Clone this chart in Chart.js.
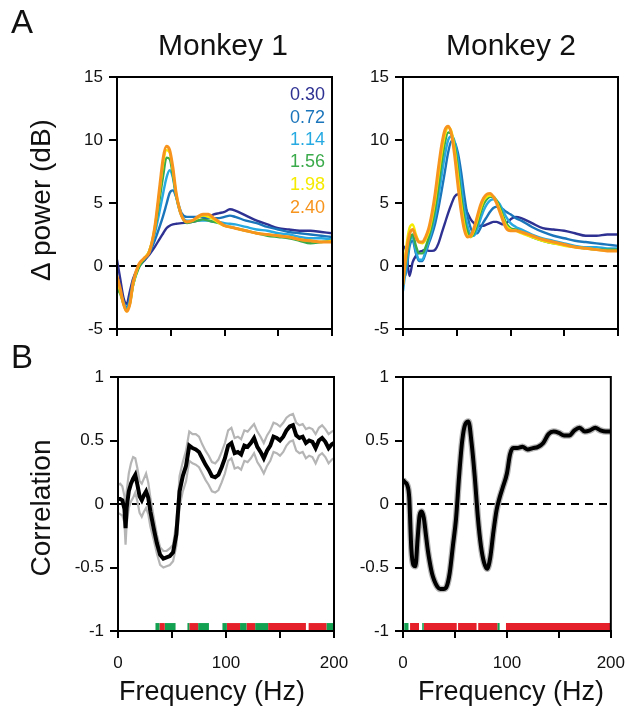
<!DOCTYPE html>
<html>
<head>
<meta charset="utf-8">
<script src="https://cdn.jsdelivr.net/npm/chart.js@4.4.1/dist/chart.umd.min.js"></script>
<style>
  body { margin: 0; background: #fff; }
  #wrap { position: relative; width: 640px; height: 712px; overflow: hidden; font-family: "Liberation Sans", Arial, Helvetica, sans-serif; color: #111; }
  canvas { position: absolute; left: 0; top: 0; }
  .lbl { position: absolute; transform: translate(-50%, -50%); white-space: nowrap; }
  .rot { position: absolute; transform: translate(-50%, -50%) rotate(-90deg); white-space: nowrap; }
  .leg { position: absolute; right: 315px; font-size: 18px; line-height: 18px; transform: translateY(-50%); }
</style>
</head>
<body>
<div id="wrap">
  <canvas id="a1" width="640" height="712"></canvas>
  <canvas id="a2" width="640" height="712"></canvas>
  <canvas id="b1" width="640" height="712"></canvas>
  <canvas id="b2" width="640" height="712"></canvas>

  <div class="lbl" style="left:22px; top:22px; font-size:33px;">A</div>
  <div class="lbl" style="left:22px; top:357px; font-size:33px;">B</div>
  <div class="lbl" style="left:223px; top:45px; font-size:30px;">Monkey 1</div>
  <div class="lbl" style="left:511px; top:45px; font-size:30px;">Monkey 2</div>
  <div class="rot" style="left:41px; top:200px; font-size:28px;">Δ power (dB)</div>
  <div class="rot" style="left:41px; top:508px; font-size:28px;">Correlation</div>
  <div class="lbl" style="left:212px; top:691px; font-size:27px;">Frequency (Hz)</div>
  <div class="lbl" style="left:511px; top:691px; font-size:27px;">Frequency (Hz)</div>
  <div id="legend"></div>
</div>

<script>
// ---- data ----
const levels = ['0.30', '0.72', '1.14', '1.56', '1.98', '2.40'];
const levelColors = ['#2E3192', '#1B75BB', '#27AAE1', '#3AAA4A', '#F5EB00', '#F7941D'];

// panel A, monkey 1
const freqA1 = [0, 3, 6, 9, 12, 15, 20, 25, 30, 35, 40, 43, 46, 49, 52, 55, 60, 65, 70, 75, 80, 85, 90, 95, 100, 105, 110, 120, 130, 140, 150, 160, 170, 180, 190, 200];
const m1_030 = [0.5, -1.0, -2.5, -3.0, -2.0, -1.0, -0.1, 0.4, 0.9, 1.5, 2.2, 2.6, 3.0, 3.2, 3.3, 3.35, 3.4, 3.45, 3.5, 3.6, 3.7, 3.9, 4.1, 4.2, 4.3, 4.5, 4.4, 4.0, 3.6, 3.3, 3.0, 2.9, 2.8, 2.8, 2.7, 2.6];
const m1_072 = [-1.0, -2.0, -2.8, -3.3, -2.5, -1.2, 0.0, 0.5, 1.0, 2.0, 3.2, 4.0, 4.9, 5.8, 6.0, 5.5, 4.2, 3.9, 3.9, 3.9, 3.9, 3.8, 3.8, 3.8, 3.9, 4.0, 3.9, 3.6, 3.4, 3.1, 2.9, 2.7, 2.6, 2.5, 2.4, 2.3];
const m1_114 = [-1.5, -2.0, -2.9, -3.4, -2.8, -1.5, -0.1, 0.5, 1.1, 2.5, 4.5, 5.8, 7.0, 7.6, 7.0, 5.5, 4.0, 3.6, 3.6, 3.6, 3.6, 3.6, 3.5, 3.5, 3.4, 3.35, 3.3, 3.1, 2.9, 2.8, 2.6, 2.5, 2.3, 2.2, 2.2, 2.1];
const m1_156 = [-1.8, -2.2, -3.0, -3.5, -3.0, -1.5, -0.2, 0.5, 1.2, 2.8, 5.5, 7.2, 8.6, 8.5, 7.2, 5.6, 4.0, 3.4, 3.5, 3.6, 3.7, 3.6, 3.5, 3.4, 3.2, 3.1, 3.0, 2.8, 2.6, 2.4, 2.3, 2.2, 2.0, 1.8, 1.9, 2.0];
const m1_198 = [-1.2, -2.0, -3.0, -3.6, -3.0, -1.5, 0.0, 0.6, 1.2, 3.0, 6.2, 8.2, 9.2, 9.0, 7.6, 5.8, 4.0, 3.5, 3.6, 3.8, 4.0, 3.9, 3.7, 3.4, 3.2, 3.1, 3.0, 2.8, 2.6, 2.5, 2.4, 2.3, 2.1, 2.0, 1.9, 2.0];
const m1_240 = [-0.8, -1.8, -3.0, -3.6, -3.0, -1.3, 0.1, 0.6, 1.1, 3.0, 6.5, 8.6, 9.5, 9.2, 7.8, 5.8, 4.0, 3.5, 3.6, 3.9, 4.1, 4.1, 3.8, 3.5, 3.2, 3.1, 3.0, 2.8, 2.6, 2.5, 2.4, 2.3, 2.1, 2.0, 1.9, 1.9];

// panel A, monkey 2
const freqA2 = [0, 3, 6, 9, 12, 15, 18, 21, 24, 27, 30, 33, 36, 39, 42, 45, 48, 51, 54, 57, 60, 63, 66, 69, 72, 75, 78, 81, 84, 87, 90, 93, 96, 100, 105, 110, 120, 130, 140, 150, 160, 170, 180, 190, 200];
const m2_030 = [1.6, 1.2, -0.8, 0.3, 0.8, 1.1, 1.2, 1.3, 1.2, 1.2, 1.3, 1.8, 2.6, 3.4, 4.2, 4.9, 5.5, 5.7, 5.3, 4.8, 4.2, 3.7, 3.4, 3.2, 3.2, 3.2, 3.3, 3.4, 3.5, 3.5, 3.4, 3.3, 3.4, 3.7, 3.9, 3.8, 3.4, 3.0, 2.9, 2.8, 2.6, 2.4, 2.4, 2.5, 2.5];
const m2_072 = [-1.0, -0.5, 1.5, 2.0, 1.0, 0.4, 0.4, 1.0, 1.8, 2.5, 3.4, 4.6, 6.0, 7.5, 9.0, 9.9, 9.8, 9.0, 7.5, 5.6, 4.0, 3.0, 2.6, 2.6, 3.0, 3.5, 3.9, 4.3, 4.6, 4.7, 4.7, 4.5, 4.3, 4.1, 3.8, 3.6, 3.1, 2.7, 2.4, 2.2, 2.0, 1.9, 1.8, 1.7, 1.6];
const m2_114 = [-2.0, 0.0, 1.8, 2.3, 1.2, 0.5, 0.5, 1.2, 2.0, 2.9, 4.0, 5.5, 7.2, 8.8, 10.0, 10.3, 9.9, 8.5, 6.5, 4.5, 3.2, 2.5, 2.4, 2.9, 3.7, 4.4, 4.9, 5.2, 5.3, 5.2, 4.9, 4.4, 3.9, 3.4, 3.1, 2.9, 2.5, 2.2, 2.0, 1.8, 1.6, 1.5, 1.5, 1.4, 1.4];
const m2_156 = [-1.5, 0.5, 2.0, 2.5, 1.6, 1.0, 1.0, 1.5, 2.3, 3.3, 4.6, 6.3, 8.2, 9.8, 10.6, 10.5, 9.6, 7.8, 5.6, 3.8, 2.7, 2.3, 2.6, 3.3, 4.2, 4.9, 5.3, 5.5, 5.5, 5.2, 4.7, 4.0, 3.4, 3.0, 2.9, 2.7, 2.3, 2.0, 1.8, 1.7, 1.5, 1.4, 1.3, 1.3, 1.3];
const m2_198 = [-1.0, 1.5, 3.0, 3.3, 2.5, 1.9, 1.8, 2.1, 2.7, 3.8, 5.3, 7.2, 9.0, 10.4, 11.0, 10.7, 9.3, 7.2, 5.0, 3.3, 2.4, 2.3, 2.8, 3.6, 4.5, 5.2, 5.5, 5.6, 5.5, 5.1, 4.5, 3.8, 3.2, 2.9, 2.8, 2.6, 2.3, 2.0, 1.8, 1.6, 1.5, 1.4, 1.3, 1.2, 1.2];
const m2_240 = [-1.5, 1.0, 2.5, 2.9, 2.3, 1.9, 1.9, 2.3, 3.0, 4.2, 5.8, 7.8, 9.6, 10.8, 11.1, 10.5, 8.8, 6.5, 4.4, 2.9, 2.3, 2.4, 3.0, 3.9, 4.8, 5.4, 5.7, 5.75, 5.5, 5.0, 4.3, 3.6, 3.0, 2.8, 2.8, 2.7, 2.4, 2.1, 1.9, 1.7, 1.5, 1.4, 1.3, 1.2, 1.2];

// panel B, monkey 1 (mean and grey bounds)
const freqB1 = [0, 2, 4, 6, 7, 8, 10, 12, 14, 16, 18, 20, 22, 24, 26, 28, 30,
  33, 36, 39, 42, 45, 48, 51, 54, 57, 60, 63, 66, 69, 72, 75, 78, 81, 84, 87, 90, 93, 96, 99,
  102, 105, 108, 111, 114, 117, 120, 123, 126, 129, 132, 135, 138, 141, 144, 147, 150,
  153, 156, 159, 162, 165, 168, 171, 174, 177, 180, 183, 186, 189, 192, 195, 198, 200];
const corr1 = [0.04, 0.04, 0.03, -0.04, -0.19, -0.03, 0.10, 0.16, 0.20, 0.23, 0.15, 0.06, 0.03, 0.07, 0.10, 0.05, -0.06,
  -0.19, -0.31, -0.40, -0.43, -0.42, -0.41, -0.38, -0.24, 0.10, 0.22, 0.30, 0.46, 0.44, 0.43, 0.41, 0.36, 0.31, 0.27, 0.22, 0.21, 0.23, 0.29, 0.36,
  0.46, 0.48, 0.40, 0.41, 0.39, 0.46, 0.45, 0.48, 0.52, 0.45, 0.41, 0.36, 0.42, 0.46, 0.53, 0.52, 0.50,
  0.53, 0.58, 0.61, 0.62, 0.54, 0.52, 0.53, 0.48, 0.50, 0.49, 0.44, 0.50, 0.52, 0.49, 0.44, 0.47, 0.48];
const corr1Hi = [0.15, 0.16, 0.14, 0.06, -0.05, 0.10, 0.24, 0.32, 0.37, 0.36, 0.28, 0.18, 0.16, 0.20, 0.24, 0.17, 0.05,
  -0.10, -0.24, -0.34, -0.37, -0.37, -0.35, -0.32, -0.15, 0.22, 0.33, 0.42, 0.57, 0.55, 0.55, 0.53, 0.47, 0.42, 0.38, 0.33, 0.32, 0.35, 0.41, 0.48,
  0.58, 0.60, 0.52, 0.53, 0.51, 0.58, 0.57, 0.60, 0.63, 0.57, 0.53, 0.48, 0.54, 0.58, 0.64, 0.63, 0.61,
  0.64, 0.68, 0.70, 0.71, 0.64, 0.62, 0.63, 0.59, 0.60, 0.59, 0.55, 0.60, 0.62, 0.59, 0.55, 0.57, 0.58];
const corr1Lo = [-0.07, -0.08, -0.09, -0.15, -0.32, -0.16, -0.03, 0.02, 0.05, 0.09, 0.02, -0.07, -0.10, -0.06, -0.03, -0.08, -0.18,
  -0.28, -0.39, -0.48, -0.50, -0.49, -0.48, -0.45, -0.33, -0.02, 0.10, 0.18, 0.34, 0.32, 0.31, 0.29, 0.24, 0.19, 0.15, 0.10, 0.09, 0.11, 0.17, 0.24,
  0.34, 0.36, 0.28, 0.29, 0.27, 0.34, 0.33, 0.36, 0.40, 0.33, 0.29, 0.24, 0.30, 0.34, 0.41, 0.40, 0.38,
  0.41, 0.46, 0.49, 0.50, 0.42, 0.40, 0.41, 0.36, 0.38, 0.37, 0.32, 0.38, 0.40, 0.37, 0.32, 0.35, 0.36];

// panel B, monkey 2
const freqB2 = [0, 2, 4, 6, 8, 10, 12, 14, 16, 18, 20, 22, 24, 26, 28, 30, 33, 36, 39, 42, 45, 48, 51, 54, 57, 60, 63, 66, 69, 72, 75, 78, 81, 84, 87, 90, 93, 96,
  100, 103, 106, 110, 115, 120, 125, 130, 135, 140, 145, 150, 155, 160, 165, 170, 175, 180, 185, 190, 195, 200];
const corr2 = [0.19, 0.17, 0.15, 0.05, -0.35, -0.48, -0.49, -0.28, -0.09, -0.06, -0.11, -0.24, -0.37, -0.47, -0.55, -0.60, -0.65, -0.67, -0.67, -0.65, -0.54, -0.33, -0.12, 0.22, 0.50, 0.63, 0.65, 0.48, 0.22, -0.10, -0.33, -0.46, -0.51, -0.42, -0.22, -0.05, 0.05, 0.13,
  0.24, 0.39, 0.44, 0.44, 0.45, 0.43, 0.44, 0.45, 0.48, 0.55, 0.57, 0.56, 0.54, 0.54, 0.58, 0.60, 0.57, 0.58, 0.60, 0.58, 0.57, 0.57];

// significance strips along the bottom (Hz ranges, r = red, g = green)
const sig1Start = [34.7, 38.4, 43.3, 64.3, 66, 74.2, 96.7, 100.8, 113, 119, 127, 139, 176.5, 193];
const sig1End   = [38.4, 43.3, 53.3, 66, 74.2, 84.2, 100.8, 113, 119, 127, 139, 174, 193, 200];
const sig1Kind  = ['g', 'r', 'g', 'g', 'r', 'g', 'g', 'r', 'g', 'r', 'g', 'r', 'r', 'g'];
const sig2Start = [1.2, 6.8, 18.5, 20, 53, 72.4, 90.8, 99.1];
const sig2End   = [5.3, 15.4, 20, 51.7, 70.8, 90.8, 93, 200];
const sig2Kind  = ['g', 'r', 'g', 'r', 'r', 'r', 'g', 'r'];

const xTicks = [0, 50, 100, 150, 200];

// ---- legend ----
const legend = document.getElementById('legend');
const legTops = [94, 117, 139, 161, 184, 207];
levels.forEach((t, i) => {
    const d = document.createElement('div');
    d.className = 'leg';
    d.style.top = legTops[i] + 'px';
    d.style.color = levelColors[i];
    d.textContent = t;
    legend.appendChild(d);
});

// ---- chart helpers ----
const frame = {
    id: 'frame',
    afterDraw(chart) {
        const { ctx, chartArea: a } = chart;
        ctx.save();
        ctx.strokeStyle = '#000';
        ctx.lineWidth = 2;
        ctx.strokeRect(a.left, a.top, a.right - a.left, a.bottom - a.top);
        ctx.restore();
    }
};

function lineSet(xs, ys, color, width, order, smooth) {
    return {
        data: xs.map((x, i) => ({ x: x, y: ys[i] })),
        borderColor: color,
        borderWidth: width,
        pointRadius: 0,
        fill: false,
        cubicInterpolationMode: smooth ? 'monotone' : 'default',
        tension: 0,
        order: order
    };
}

function zeroSet() {
    return {
        data: [{ x: 0, y: 0 }, { x: 200, y: 0 }],
        borderColor: '#000',
        borderWidth: 1.8,
        borderDash: [8, 6],
        pointRadius: 0,
        order: 20
    };
}

function sigSets(starts, ends, kinds) {
    return starts.map((s, i) => ({
        data: [{ x: s, y: -0.965 }, { x: ends[i], y: -0.965 }],
        borderColor: kinds[i] === 'r' ? '#E5202A' : '#12A150',
        borderWidth: 7,
        borderCapStyle: 'butt',
        pointRadius: 0,
        order: -1
    }));
}

const tickFont = { family: '"Liberation Sans", Arial, sans-serif', size: 17 };

function makePanel(id, box, yMin, yMax, yStep, labelled, datasets) {
    new Chart(document.getElementById(id), {
        type: 'line',
        data: { datasets: datasets },
        options: {
            responsive: false,
            animation: false,
            layout: {
                padding: { left: box.left - 60, top: box.top, right: 640 - box.right, bottom: 712 - box.bottom - 45 }
            },
            plugins: { legend: { display: false }, tooltip: { enabled: false } },
            scales: {
                x: {
                    type: 'linear',
                    min: 0,
                    max: 200,
                    afterFit: s => { s.height = 45; },
                    afterBuildTicks: s => { s.ticks = xTicks.map(v => ({ value: v })); },
                    ticks: {
                        autoSkip: false,
                        maxRotation: 0,
                        padding: 15,
                        color: '#111',
                        font: tickFont,
                        callback: v => (labelled && v % 100 === 0) ? String(v) : ''
                    },
                    grid: { drawOnChartArea: false, color: '#000', lineWidth: 2, tickLength: 7 },
                    border: { color: '#000', width: 2 }
                },
                y: {
                    min: yMin,
                    max: yMax,
                    afterFit: s => { s.width = 60; },
                    ticks: {
                        stepSize: yStep,
                        padding: 6,
                        color: '#111',
                        font: tickFont,
                        callback: v => String(Math.round(v * 10) / 10)
                    },
                    grid: { drawOnChartArea: false, color: '#000', lineWidth: 2, tickLength: 8 },
                    border: { color: '#000', width: 2 }
                }
            }
        },
        plugins: [frame]
    });
}

const m1 = [m1_030, m1_072, m1_114, m1_156, m1_198, m1_240];
const m2 = [m2_030, m2_072, m2_114, m2_156, m2_198, m2_240];

const a1Sets = [zeroSet()];
const a2Sets = [zeroSet()];
m1.forEach((ys, i) => a1Sets.push(lineSet(freqA1, ys, levelColors[i], i === 5 ? 3 : 2.4, 10 - i, true)));
m2.forEach((ys, i) => a2Sets.push(lineSet(freqA2, ys, levelColors[i], i === 5 ? 3 : 2.4, 10 - i, true)));

makePanel('a1', { left: 117, right: 332, top: 77, bottom: 329 }, -5, 15, 5, false, a1Sets);
makePanel('a2', { left: 403, right: 618, top: 77, bottom: 329 }, -5, 15, 5, false, a2Sets);

const b1Sets = [
    zeroSet(),
    lineSet(freqB1, corr1Hi, '#B5B5B5', 2.2, 5, false),
    lineSet(freqB1, corr1Lo, '#B5B5B5', 2.2, 5, false),
    lineSet(freqB1, corr1, '#000', 4, 1, false)
].concat(sigSets(sig1Start, sig1End, sig1Kind));

const b2Sets = [
    zeroSet(),
    lineSet(freqB2, corr2, '#B5B5B5', 6.5, 5, true),
    lineSet(freqB2, corr2, '#000', 4, 1, true)
].concat(sigSets(sig2Start, sig2End, sig2Kind));

makePanel('b1', { left: 118, right: 334, top: 377, bottom: 631 }, -1, 1, 0.5, true, b1Sets);
makePanel('b2', { left: 403, right: 620, top: 377, bottom: 631 }, -1, 1, 0.5, true, b2Sets);
</script>
</body>
</html>
